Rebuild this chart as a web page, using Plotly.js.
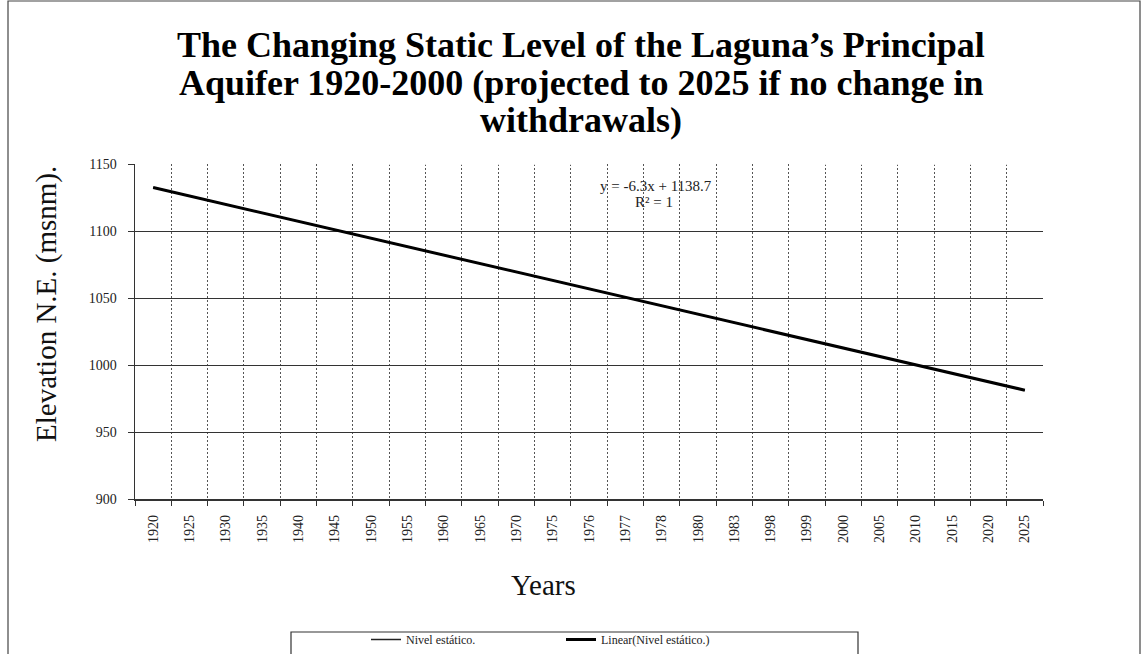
<!DOCTYPE html>
<html>
<head>
<meta charset="utf-8">
<script src="https://cdn.plot.ly/plotly-3.0.1.min.js"></script>
<style>html,body{margin:0;padding:0;background:#fff;}#chart{width:1145px;height:654px;}</style>
</head>
<body>
<div id="chart"></div>
<script>
const years = ["1920","1925","1930","1935","1940","1945","1950","1955","1960","1965","1970","1975","1976","1977","1978","1980","1983","1998","1999","2000","2005","2010","2015","2020","2025"];
const nivelEstatico = [1132.4,1126.1,1119.8,1113.5,1107.2,1100.9,1094.6,1088.3,1082.0,1075.7,1069.4,1063.1,1056.8,1050.5,1044.2,1037.9,1031.6,1025.3,1019.0,1012.7,1006.4,1000.1,993.8,987.5,981.2];
const linearNivel = [1132.4,1126.1,1119.8,1113.5,1107.2,1100.9,1094.6,1088.3,1082.0,1075.7,1069.4,1063.1,1056.8,1050.5,1044.2,1037.9,1031.6,1025.3,1019.0,1012.7,1006.4,1000.1,993.8,987.5,981.2];
const yTicks = [900,950,1000,1050,1100,1150];
const titleLines = ["The Changing Static Level of the Laguna’s Principal", "Aquifer 1920-2000 (projected to 2025 if no change in", "withdrawals)"];

const L = 135, R = 1043, T = 164, B = 499;
const px = x => (x - L) / (R - L);
const py = y => (B - y) / (B - T);
const serif = "Liberation Serif, Times New Roman, serif";

const traces = [
  {x: years, y: nivelEstatico, type: 'scatter', mode: 'lines', name: 'Nivel estático.',
   line: {color: '#222', width: 1.5}},
  {x: years, y: linearNivel, type: 'scatter', mode: 'lines', name: 'Linear(Nivel estático.)',
   line: {color: '#000', width: 3}}
];

const titleY = [45, 83, 120];
const annotations = titleLines.map((t, i) => ({
  text: '<b>' + t + '</b>', xref: 'paper', yref: 'paper', x: px(581), y: py(titleY[i]),
  xanchor: 'center', yanchor: 'middle', showarrow: false,
  font: {family: serif, size: 36, color: '#000'}
}));
annotations.push(
  {text: 'Elevation N.E. (msnm).', xref: 'paper', yref: 'paper', x: px(46), y: py(304), textangle: -90,
   xanchor: 'center', yanchor: 'middle', showarrow: false, font: {family: serif, size: 29, color: '#111'}},
  {text: 'Years', xref: 'paper', yref: 'paper', x: px(543), y: py(585), xanchor: 'center', yanchor: 'middle',
   showarrow: false, font: {family: serif, size: 29, color: '#111'}},
  {text: 'y = -6.3x + 1138.7', xref: 'paper', yref: 'paper', x: px(656), y: py(186), xanchor: 'center', yanchor: 'middle',
   showarrow: false, font: {family: serif, size: 15, color: '#222'}},
  {text: 'R² = 1', xref: 'paper', yref: 'paper', x: px(654), y: py(202), xanchor: 'center', yanchor: 'middle',
   showarrow: false, font: {family: serif, size: 15, color: '#222'}}
);

const layout = {
  width: 1145, height: 654,
  margin: {l: L, r: 1145 - R, t: T, b: 654 - B},
  paper_bgcolor: '#fff', plot_bgcolor: '#fff',
  showlegend: true,
  legend: {orientation: 'h', x: px(366), xref: 'paper', yref: 'container', y: 0, xanchor: 'left', yanchor: 'bottom',
    font: {family: serif, size: 12, color: '#222'}, entrywidth: 150, bgcolor: 'rgba(0,0,0,0)'},
  xaxis: {type: 'category', tickangle: -90, tickson: 'boundaries', ticks: 'outside', ticklen: 5,
    tickcolor: '#333', showgrid: true, gridcolor: '#555', griddash: '2px,2px', gridwidth: 1,
    showline: true, linecolor: '#333', linewidth: 1.5, zeroline: false, ticklabelstandoff: 9,
    tickfont: {family: serif, size: 14, color: '#222'}, range: [-0.5, 24.5]},
  yaxis: {range: [900, 1150], tickvals: yTicks, ticks: 'outside', ticklen: 6, tickcolor: '#333',
    showgrid: true, gridcolor: '#333', gridwidth: 1, showline: true, linecolor: '#333', linewidth: 1.5,
    zeroline: false, ticklabelstandoff: 8, tickfont: {family: serif, size: 14, color: '#222'}},
  annotations: annotations,
  shapes: [
    {type: 'line', xref: 'paper', yref: 'paper', x0: px(L + 2), x1: 1, y0: 1, y1: 1,
     line: {color: '#fff', width: 1.5, dash: '2px,2px'}, layer: 'above'},
    {type: 'rect', xref: 'paper', yref: 'paper', x0: px(8), x1: px(1140), y0: py(1), y1: py(700),
     line: {color: '#444', width: 1.2}, fillcolor: 'rgba(0,0,0,0)', layer: 'below'},
    {type: 'rect', xref: 'paper', yref: 'paper', x0: px(291), x1: px(858), y0: py(632), y1: py(670),
     line: {color: '#333', width: 1.2}, fillcolor: 'rgba(0,0,0,0)'}
  ]
};

Plotly.newPlot('chart', traces, layout, {displayModeBar: false, staticPlot: true});
</script>
</body>
</html>
